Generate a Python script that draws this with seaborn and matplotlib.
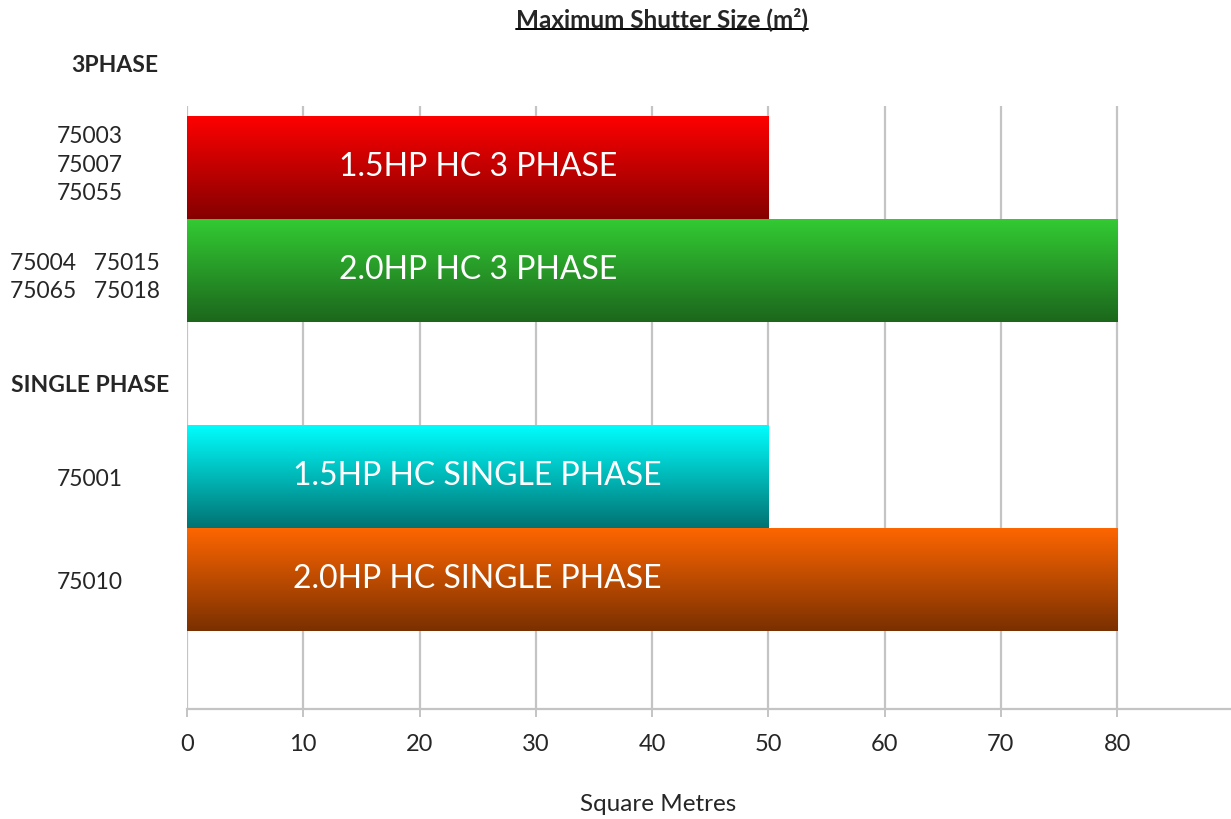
# Maximum shutter size per motor, horizontal gradient bars
import numpy as np
import matplotlib
matplotlib.use("Agg")
import matplotlib.pyplot as plt
from matplotlib.colors import to_rgb
from matplotlib.lines import Line2D
from matplotlib.transforms import ScaledTranslation
import seaborn as sns

# ------------------------------------------
# DATA
# ------------------------------------------
bar_labels = ["1.5HP HC 3 PHASE", "2.0HP HC 3 PHASE",
              "1.5HP HC SINGLE PHASE", "2.0HP HC SINGLE PHASE"]
max_size = [50, 80, 50, 80]
part_numbers = ["75003\n75007\n75055", "75004   75015\n75065   75018",
                "75001", "75010"]
slot = [0, 1, 3, 4]          # slot 2 left empty between the two groups
top_colors = ["#ff0000", "#33cc33", "#00ffff", "#ff6600"]
bottom_colors = ["#850000", "#1c661c", "#007272", "#7a3000"]
x_ticks = [0, 10, 20, 30, 40, 50, 60, 70, 80]
group_titles = ["3PHASE", "SINGLE PHASE"]

# ------------------------------------------
# STYLE
# ------------------------------------------
sns.set_theme(style="white")
plt.rcParams["font.family"] = ["Lato", "DejaVu Sans"]

W, H = 1231, 820
fig = plt.figure(figsize=(W / 100, H / 100), dpi=100)
ax = fig.add_axes([187 / W, 1 - 710 / H, (W - 187) / W, (710 - 107) / H])

sns.barplot(x=max_size, y=slot, orient="h", native_scale=True, width=1.0,
            color="#888888", ax=ax, errorbar=None, zorder=2)

ax.set_xlim(0, 89.8)
ax.set_ylim(5.257, -0.597)

# gradient fill, clipped to each bar
for patch, c_top, c_bot in zip(ax.patches, top_colors, bottom_colors):
    x0, y0 = patch.get_x(), patch.get_y()
    w, h = patch.get_width(), patch.get_height()
    t = np.linspace(0, 1, 256)[:, None]
    grad = (1 - t) * np.array(to_rgb(c_top)) + t * np.array(to_rgb(c_bot))
    grad = grad[:, None, :].repeat(2, axis=1)
    patch.set_edgecolor("none")
    im = ax.imshow(grad, extent=(x0, x0 + w, y0 + h, y0), origin="upper",
                   aspect="auto", interpolation="bilinear", zorder=3)
    im.set_clip_path(patch)

ax.set_xlim(0, 89.8)
ax.set_ylim(5.257, -0.597)

# labels inside the bars
for y, lab in zip(slot, bar_labels):
    ax.text(25, y - 0.01, lab, ha="center", va="center", color="white",
            fontsize=23, zorder=4)

# axes / grid
ax.set_axisbelow(True)
ax.grid(axis="x", color="#c4c4c4", linewidth=1.6)
ax.grid(axis="y", visible=False)
for s in ["top", "right", "left"]:
    ax.spines[s].set_visible(False)
ax.spines["bottom"].set_color("#c4c4c4")
ax.spines["bottom"].set_linewidth(1.6)

ax.set_xticks(x_ticks)
ax.set_xticklabels([str(v) for v in x_ticks], fontsize=17)
ax.tick_params(axis="x", direction="out", length=6, width=1.4,
               color="#c4c4c4", pad=11, bottom=True)

ax.set_yticks(slot)
ax.set_yticklabels(part_numbers, fontsize=16.5, ha="center", linespacing=1.42)
ax.tick_params(axis="y", length=0, pad=70)
ax.set_xlabel("")
ax.set_ylabel("")

# small nudges (px) for the multi-line part number blocks
nudges = [(0, -9), (-5, 0), (0, 0), (0, 0)]
for lbl, (dx, dy) in zip(ax.get_yticklabels(), nudges):
    lbl.set_transform(lbl.get_transform()
                      + ScaledTranslation(dx / 100, -dy / 100,
                                          fig.dpi_scale_trans))

# group headings
fig.text(115 / W, 1 - 66 / H, group_titles[0], ha="center", va="center",
         fontsize=16.5, fontweight="bold")
fig.text(90 / W, 1 - 386 / H, group_titles[1], ha="center", va="center",
         fontsize=16.5, fontweight="bold")

fig.text(658 / W, 1 - 805 / H, "Square Metres", ha="center", va="center",
         fontsize=17.5)

# underlined title
title = fig.text(662 / W, 1 - 19 / H, "Maximum Shutter Size (m²)",
                 ha="center", va="center", fontsize=17.5, fontweight="bold")
renderer = fig.canvas.get_renderer()
bb = title.get_window_extent(renderer=renderer)
uy = (bb.y0 + 1) / H
fig.add_artist(Line2D([bb.x0 / W, bb.x1 / W], [uy, uy], color="black",
                      linewidth=1.4, transform=fig.transFigure))

fig.savefig("out.png", dpi=100)
